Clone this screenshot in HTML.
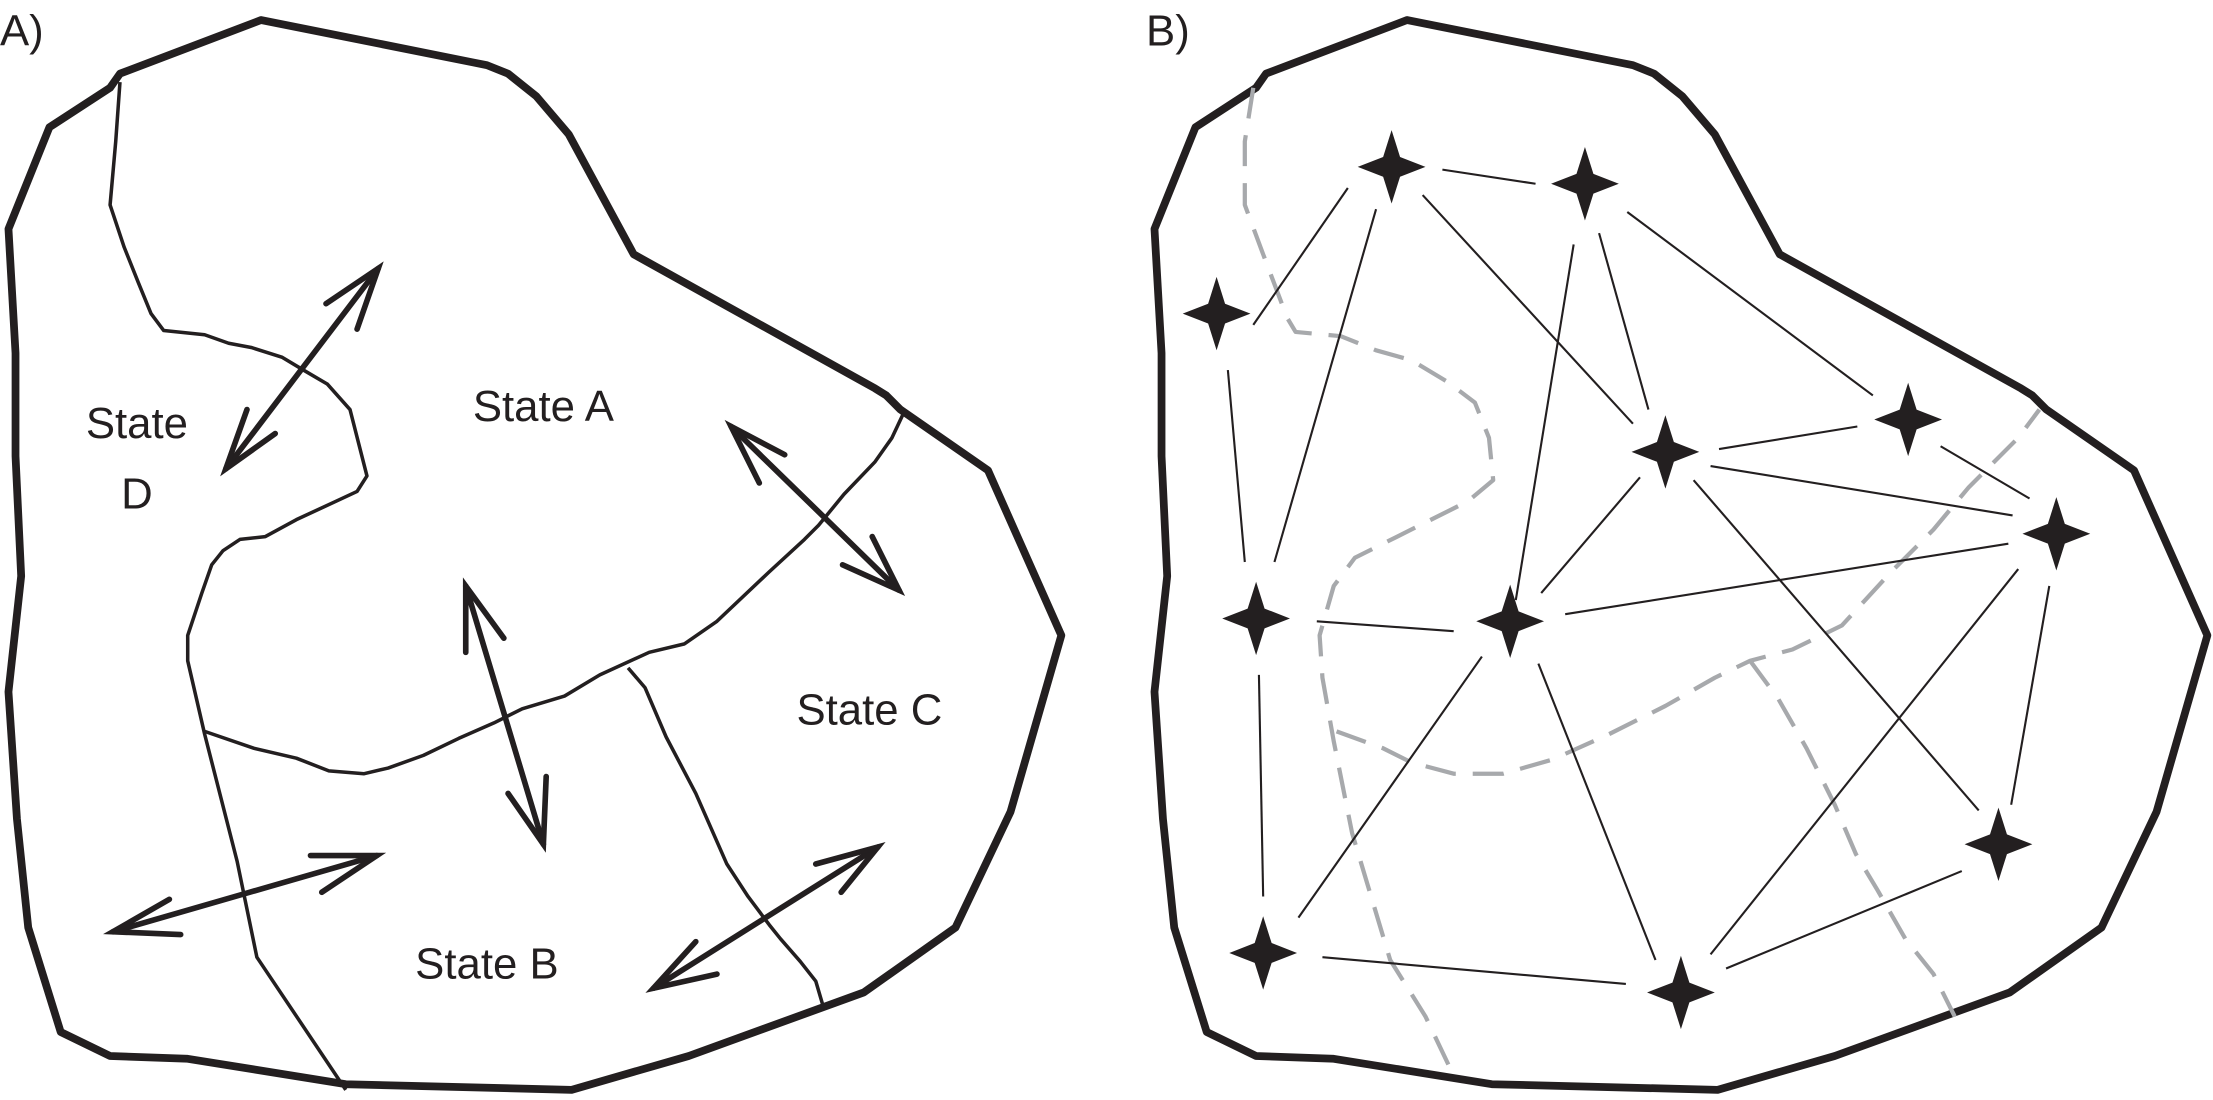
<!DOCTYPE html>
<html><head><meta charset="utf-8"><style>html,body{margin:0;padding:0;background:#fff;}svg{display:block}</style></head>
<body>
<svg width="2213" height="1100" viewBox="0 0 1568 779" xmlns="http://www.w3.org/2000/svg">
<defs>
<g id="outline"><polygon points="185,14 335,44 345,46 360,52 380,68 403,95 449,180 620,275 628,280 638,290 700,333 752,450 716,575 677,657 612,703 488,748 405,772 245,768 133,750 78,748 43,731 20,657 12,580 6,490 15,408 11,323 11,250 6,162 35,90 78,62 85,52" fill="none" stroke="#231f20" stroke-width="5.5" stroke-linejoin="round"/></g>
<path id="star" d="M0,-26 L6,-7 L24,0 L6,7 L0,26 L-6,7 L-24,0 L-6,-7 Z" fill="#231f20"/>
</defs>
<g font-family="Liberation Sans, sans-serif" font-size="31" fill="#231f20">
<text x="0" y="32">A)</text>
<text x="812" y="32">B)</text>
<text x="385" y="298" text-anchor="middle">State A</text>
<text x="97" y="310" text-anchor="middle">State</text>
<text x="97" y="360" text-anchor="middle">D</text>
<text x="345" y="693" text-anchor="middle">State B</text>
<text x="616" y="513" text-anchor="middle">State C</text>
</g>
<use href="#outline"/>
<use href="#outline" transform="translate(812,0)"/>
<g fill="none" stroke="#231f20" stroke-width="2.5" stroke-linejoin="round">
<polyline points="85,58 82,100 78,145 88,175 98,200 107,222 116,234 145,237 162,243 178,246 200,253 215,262 232,272 248,290 260,337 253,348 238,355 210,368 188,380 170,382 158,390 150,400 143,420 133,450 133,468 145,520 168,610 182,678 245,772"/>
<polyline points="145,518 180,530 210,537 233,546 258,548 275,544 300,535 325,523 350,512 370,502 400,493 425,478 460,462 485,456 508,440 545,405 570,382 580,372 598,350 620,327 632,310 640,293"/>
<polyline points="445,473 457,487 472,522 493,562 515,612 530,635 545,655 553,665 567,681 578,695 583,712"/>
</g>
<g fill="none" stroke="#231f20" stroke-width="4" stroke-linecap="round" stroke-linejoin="miter">
<line x1="160" y1="332" x2="268" y2="190"/><polyline points="231,215 268,190 253,233"/><polyline points="175,290 160,332 195,307"/>
<line x1="518" y1="302" x2="637" y2="418"/><polyline points="556,322 518,302 538,342"/><polyline points="597,400 637,418 618,380"/>
<line x1="330" y1="415" x2="385" y2="598"/><polyline points="330,462 330,415 357,452"/><polyline points="387,550 385,598 360,562"/>
<line x1="80" y1="660" x2="267" y2="606"/><polyline points="220,606 267,606 228,632"/><polyline points="128,662 80,660 120,637"/>
<line x1="463" y1="700" x2="622" y2="600"/><polyline points="578,612 622,600 596,632"/><polyline points="508,690 463,700 493,667"/>
</g>
<g fill="none" stroke="#a7a9ac" stroke-width="3" stroke-dasharray="22,12" stroke-linejoin="round">
<polyline points="888,62 882,100 882,145 895,180 912,225 918,235 950,238 975,248 1000,255 1025,270 1045,285 1055,310 1058,340 1040,355 1000,375 960,395 945,415 935,450 937,480 945,525 958,590 970,630 985,680 1010,720 1030,762"/>
<polyline points="947,518 980,530 1000,540 1030,548 1065,548 1100,538 1140,520 1180,500 1215,480 1240,468 1270,460 1305,443 1340,405 1370,375 1395,345 1430,310 1445,290"/>
<polyline points="1240,468 1260,495 1280,530 1300,570 1315,605 1330,630 1350,665 1370,690 1385,720"/>
</g>
<g stroke="#231f20" stroke-width="1.5">
<line x1="888" y1="230" x2="955" y2="133"/><line x1="975" y1="148" x2="903" y2="398"/>
<line x1="1008" y1="138" x2="1157" y2="300"/><line x1="1022" y1="120" x2="1088" y2="130"/>
<line x1="1115" y1="173" x2="1074" y2="425"/><line x1="1133" y1="165" x2="1168" y2="290"/>
<line x1="1153" y1="150" x2="1327" y2="280"/><line x1="1218" y1="318" x2="1316" y2="302"/>
<line x1="1212" y1="330" x2="1426" y2="365"/><line x1="1162" y1="338" x2="1092" y2="420"/>
<line x1="1200" y1="340" x2="1402" y2="574"/><line x1="1375" y1="316" x2="1438" y2="353"/>
<line x1="870" y1="262" x2="882" y2="398"/><line x1="933" y1="440" x2="1030" y2="447"/>
<line x1="1109" y1="435" x2="1423" y2="385"/><line x1="892" y1="478" x2="895" y2="635"/>
<line x1="1050" y1="465" x2="920" y2="650"/><line x1="1090" y1="470" x2="1173" y2="680"/>
<line x1="1430" y1="403" x2="1212" y2="676"/><line x1="1452" y1="415" x2="1425" y2="570"/>
<line x1="937" y1="678" x2="1152" y2="697"/><line x1="1223" y1="686" x2="1390" y2="617"/>
</g>
<g>
<use href="#star" x="986" y="118"/><use href="#star" x="1123" y="130"/><use href="#star" x="862" y="222"/>
<use href="#star" x="1180" y="320"/><use href="#star" x="1352" y="297"/><use href="#star" x="1457" y="378"/>
<use href="#star" x="890" y="438"/><use href="#star" x="1070" y="440"/><use href="#star" x="1416" y="598"/>
<use href="#star" x="895" y="675"/><use href="#star" x="1191" y="703"/>
</g>
</svg>
</body></html>
